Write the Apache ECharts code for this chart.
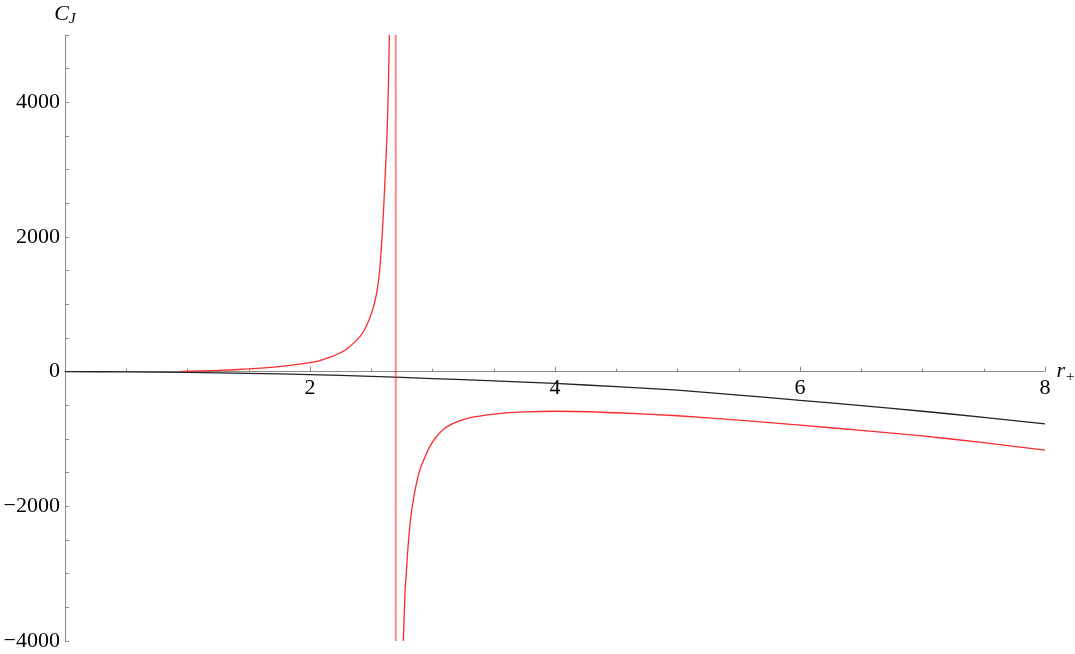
<!DOCTYPE html>
<html>
<head>
<meta charset="utf-8">
<script src="https://cdn.jsdelivr.net/npm/echarts@6/dist/echarts.min.js"></script>
<style>
  html, body { margin: 0; padding: 0; background: #fff; }
  #chart { width: 1075px; height: 654px; }
</style>
</head>
<body>
<div id="chart"></div>
<script>
// values
const leftR = [0.95, 1.25, 1.5, 1.75, 1.92, 2.0, 2.08, 2.16, 2.245, 2.3, 2.354, 2.41, 2.44, 2.463, 2.49, 2.517, 2.54, 2.558, 2.572, 2.585, 2.6, 2.612, 2.622, 2.631, 2.64, 2.648];
const leftC = [3, 18, 40, 75, 112, 135, 165, 212, 277, 338, 420, 525, 608, 690, 805, 955, 1130, 1330, 1580, 1900, 2380, 2844, 3230, 3650, 4250, 5000];

const rightR = [2.762, 2.776, 2.79, 2.803, 2.822, 2.844, 2.87, 2.898, 2.94, 2.98, 3.03, 3.088, 3.16, 3.252, 3.35, 3.469, 3.6, 3.75, 4.0, 4.5, 5.0, 5.5, 6.0, 6.5, 7.0, 7.5, 8.0];
const rightC = [-4000, -3279, -2880, -2538, -2180, -1896, -1650, -1452, -1260, -1106, -970, -859, -775, -711, -668, -637, -612, -597, -588, -610, -655, -720, -795, -872, -955, -1055, -1166];

const blackR = [0, 0.5, 1, 1.5, 2, 2.5, 3, 3.5, 4, 4.5, 5, 5.5, 6, 6.5, 7, 7.5, 8];
const blackC = [0, -3, -11, -25, -44, -70, -102, -137, -175, -222, -275, -348, -425, -505, -588, -678, -775];

const poleR = [2.70, 2.70];
const poleC = [5000, -4000];

const xLabels = [2, 4, 6, 8];
const yLabels = [-4000, -2000, 0, 2000, 4000];

const zip = (xs, ys) => xs.map((x, i) => [x, ys[i]]);
const font = '"Liberation Serif", "DejaVu Serif", serif';
const axisGrey = '#8a8a8a';

// plot box: 35..641 px for -4000..5000, the r axis sits on C = 0
const gridTop = 35, gridBottom = 13, yMin = -4000, yMax = 5000;
const plotH = 654 - gridTop - gridBottom;
const zeroShift = -plotH * (0 - yMin) / (yMax - yMin);

const chart = echarts.init(document.getElementById('chart'));

chart.setOption({
  animation: false,
  textStyle: { fontFamily: font },
  grid: { left: 65, right: 30, top: gridTop, bottom: gridBottom, outerBoundsMode: 'none', containLabel: false },
  xAxis: {
    type: 'value',
    min: 0,
    max: 8,
    interval: 2,
    offset: zeroShift,
    name: '{r|r}{s|+}',
    nameLocation: 'end',
    nameGap: 10,
    nameTextStyle: {
      rich: {
        r: { fontFamily: font, fontStyle: 'italic', fontSize: 22, color: '#000' },
        s: { fontFamily: font, fontSize: 15, color: '#000', padding: [11, 0, 0, 1] }
      }
    },
    axisLine: { onZero: false, lineStyle: { color: axisGrey, width: 1 } },
    axisTick: { inside: true, length: 5, lineStyle: { color: axisGrey } },
    minorTick: { show: true, splitNumber: 4, length: 3, lineStyle: { color: axisGrey } },
    splitLine: { show: false },
    axisLabel: {
      fontFamily: font,
      fontSize: 22,
      color: '#000',
      margin: 6,
      formatter: v => (xLabels.includes(v) ? String(v) : '')
    }
  },
  yAxis: {
    type: 'value',
    min: yMin,
    max: yMax,
    interval: 500,
    name: '{c|C}{j|J}',
    nameLocation: 'end',
    nameGap: 8,
    nameTextStyle: {
      rich: {
        c: { fontFamily: font, fontStyle: 'italic', fontSize: 22, color: '#000' },
        j: { fontFamily: font, fontStyle: 'italic', fontSize: 15, color: '#000', padding: [10, 0, 0, 0] }
      }
    },
    axisLine: { show: true, onZero: false, lineStyle: { color: axisGrey, width: 1 } },
    axisTick: { inside: true, length: 4, lineStyle: { color: axisGrey } },
    splitLine: { show: false },
    axisLabel: {
      fontFamily: font,
      fontSize: 22,
      color: '#000',
      margin: 5,
      formatter: v => (yLabels.includes(v) ? (v < 0 ? '\u2212' + (-v) : String(v)) : '')
    }
  },
  series: [
    {
      type: 'line',
      data: zip(blackR, blackC),
      showSymbol: false,
      smooth: 0.25,
      lineStyle: { color: '#222', width: 1.3 }
    },
    {
      type: 'line',
      data: zip(poleR, poleC),
      showSymbol: false,
      lineStyle: { color: 'rgba(255,40,40,0.55)', width: 2 }
    },
    {
      type: 'line',
      data: zip(leftR, leftC),
      showSymbol: false,
      smooth: 0.2,
      lineStyle: { color: '#ff2a2a', width: 1.3 }
    },
    {
      type: 'line',
      data: zip(rightR, rightC),
      showSymbol: false,
      smooth: 0.25,
      lineStyle: { color: '#ff2a2a', width: 1.3 }
    }
  ]
});
</script>
</body>
</html>
